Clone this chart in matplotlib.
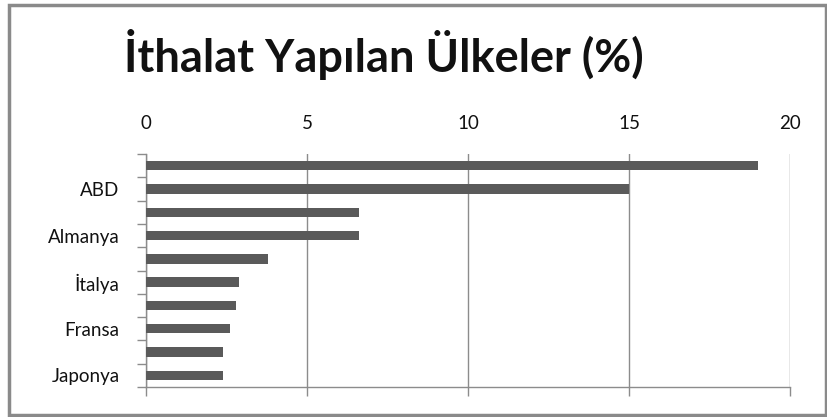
import matplotlib

matplotlib.use("Agg")
import matplotlib.pyplot as plt
from matplotlib.patches import Rectangle
from matplotlib.ticker import FixedLocator, NullFormatter
import numpy as np

plt.rcParams["font.family"] = ["Lato", "DejaVu Sans"]

# import share by country, top to bottom; only every second row carries a name
labels = ["", "ABD", "", "Almanya", "", "İtalya", "", "Fransa", "", "Japonya"]
values = [19.0, 15.0, 6.6, 6.6, 3.8, 2.9, 2.8, 2.6, 2.4, 2.4]
xticks = [0, 5, 10, 15, 20]
title = "İthalat Yapılan Ülkeler (%)"

GRID = "#8c8c8c"
BAR = "#5a5a5a"
TEXT = "#111111"

fig = plt.figure(figsize=(8.28, 4.17), dpi=100)
fig.patches.append(Rectangle((9 / 828, 2 / 417), 817 / 828, 410 / 417,
                             transform=fig.transFigure, fill=False,
                             edgecolor="#8a8a8a", linewidth=2.5))

ax = fig.add_axes([146 / 828, 1 - 387 / 417, 644 / 828, 233 / 417])
n = len(values)
y = np.arange(n)
ax.barh(y, values, height=0.4, color=BAR, zorder=3)

ax.set_xlim(0, 20)
ax.set_ylim(n - 0.5, -0.5)

# value axis: labels on top, gridlines, small ticks hanging below the base line
ax.set_xticks(xticks)
ax.set_xticklabels([str(t) for t in xticks])
ax.tick_params(axis="x", bottom=True, top=False, labelbottom=False, labeltop=True,
               direction="out", length=6.5, width=1, color=GRID, pad=9,
               labelsize=13.5, labelcolor=TEXT)
ax.grid(True, axis="x", color=GRID, linewidth=1, zorder=0)

# category axis: boundary ticks, names centred on the bars
ax.yaxis.set_major_locator(FixedLocator(np.arange(n + 1) - 0.5))
ax.yaxis.set_major_formatter(NullFormatter())
ax.yaxis.set_minor_locator(FixedLocator(y))
ax.set_yticklabels(labels, minor=True)
ax.tick_params(axis="y", which="major", direction="out", length=6.5, width=1, color=GRID)
ax.tick_params(axis="y", which="minor", length=0, pad=19, labelsize=13.5,
               labelcolor=TEXT)

for side in ["top", "right"]:
    ax.spines[side].set_visible(False)
for side in ["left", "bottom"]:
    ax.spines[side].set_color(GRID)
    ax.spines[side].set_linewidth(1)

fig.text(124 / 828, 1 - 54 / 417, title, fontsize=32.5, fontweight="bold",
         va="center", ha="left", color=TEXT)

fig.savefig("out.png", dpi=100)
